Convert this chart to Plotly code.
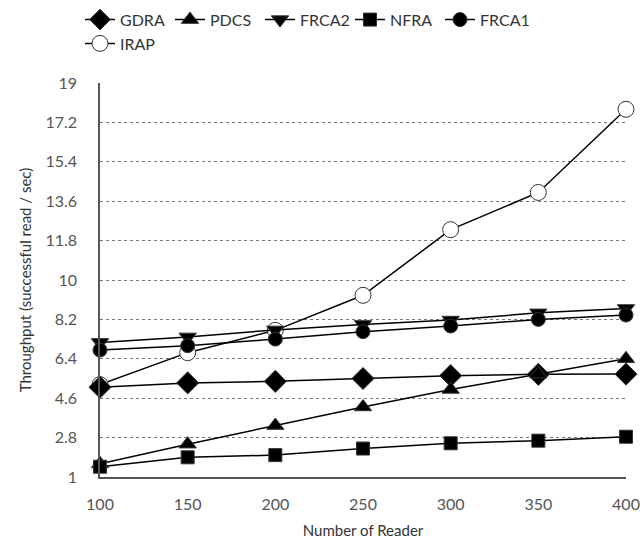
import plotly.graph_objects as go

readers = [100, 150, 200, 250, 300, 350, 400]
gdra = [5.1, 5.3, 5.37, 5.5, 5.63, 5.69, 5.7]
pdcs = [1.6, 2.5, 3.35, 4.2, 5.0, 5.7, 6.4]
frca2 = [7.15, 7.4, 7.72, 7.97, 8.17, 8.5, 8.7]
nfra = [1.47, 1.9, 2.0, 2.3, 2.54, 2.66, 2.84]
frca1 = [6.8, 7.0, 7.3, 7.64, 7.9, 8.2, 8.4]
irap = [5.22, 6.68, 7.7, 9.3, 12.3, 14.0, 17.8]

yticks = [1, 2.8, 4.6, 6.4, 8.2, 10, 11.8, 13.6, 15.4, 17.2, 19]
ytick_text = ["1", "2.8", "4.6", "6.4", "8.2", "10", "11.8", "13.6", "15.4", "17.2", "19"]

# (name, values, symbol, fill, size, legend rank)
series = [
    ("IRAP", irap, "circle", "white", 16, 6),
    ("GDRA", gdra, "diamond", "black", 17, 1),
    ("PDCS", pdcs, "triangle-up", "black", 15, 2),
    ("FRCA2", frca2, "triangle-down", "black", 15, 3),
    ("NFRA", nfra, "square", "black", 13, 4),
    ("FRCA1", frca1, "circle", "black", 14, 5),
]

fig = go.Figure()
for name, vals, sym, fill, size, rank in series:
    fig.add_trace(go.Scatter(
        x=readers, y=vals, name=name, mode="lines+markers",
        line=dict(color="black", width=1.5),
        marker=dict(symbol=sym, size=size, color=fill,
                    line=dict(color="#333", width=1)),
        cliponaxis=False, legendrank=rank,
    ))

font_fam = "Lato, Open Sans, sans-serif"
fig.update_layout(
    width=640, height=539,
    margin=dict(l=100, r=14, t=83, b=62),
    plot_bgcolor="white", paper_bgcolor="white",
    font=dict(family=font_fam, size=15, color="#444"),
    showlegend=True,
    legend=dict(orientation="h", x=0.125, xanchor="left", xref="container",
                y=0.995, yanchor="top", yref="container",
                font=dict(size=16, color="#333"), itemwidth=30,
                entrywidth=45, entrywidthmode="pixels"),
    xaxis=dict(
        range=[100, 400], tickvals=readers, showgrid=False, zeroline=False,
        showline=True, linecolor="#555", linewidth=1.5, ticks="",
        ticklabelstandoff=12, automargin=False,
        title=dict(text="Number of Reader", font=dict(size=15, color="#333"), standoff=22),
        tickfont=dict(size=16, color="#555"),
    ),
    yaxis=dict(
        range=[1, 19], tickvals=yticks, ticktext=ytick_text, showgrid=True,
        gridcolor="#777", griddash="dot", gridwidth=1, zeroline=False,
        showline=True, linecolor="#555", linewidth=1.5, ticks="",
        ticklabelstandoff=18, automargin=False,
        title=dict(text="Throughput (successful read / sec)", font=dict(size=15, color="#333"), standoff=10),
        tickfont=dict(size=16, color="#555"),
    ),
)
fig.write_html("out.html")
